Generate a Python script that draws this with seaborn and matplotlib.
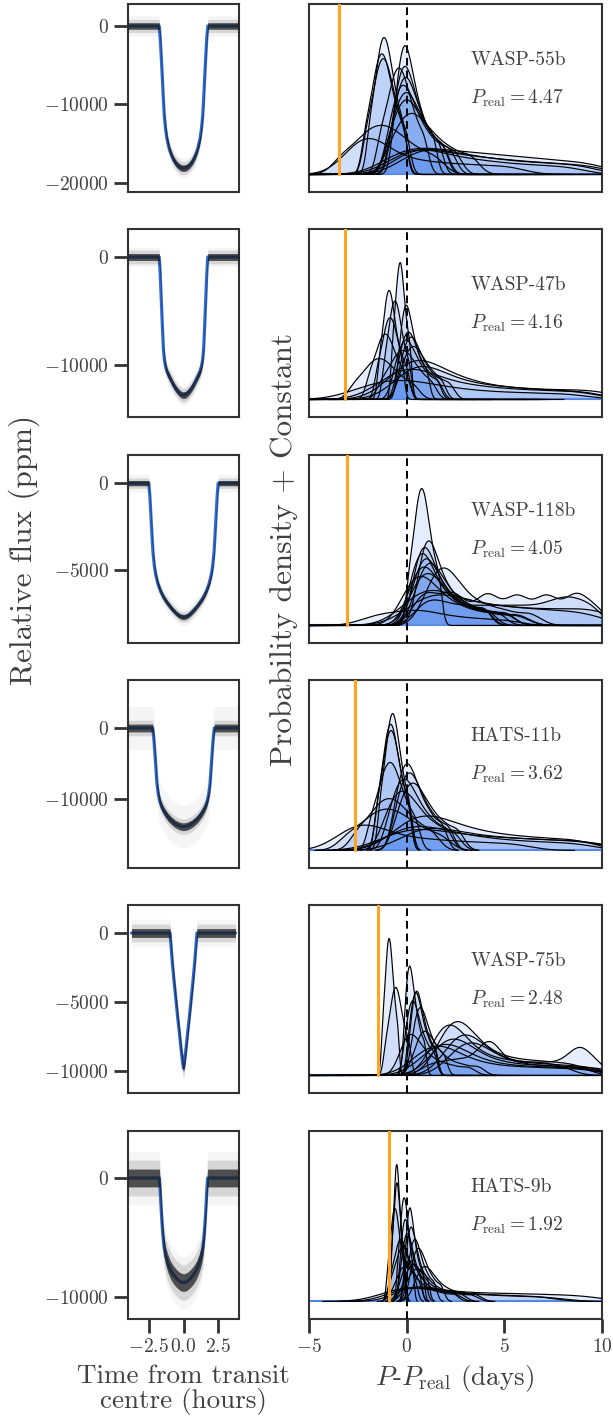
import numpy as np
import pandas as pd
import matplotlib
matplotlib.use("Agg")
import matplotlib.pyplot as plt
import seaborn as sns

# ---------------- data ----------------
planets = ["WASP-55b", "WASP-47b", "WASP-118b", "HATS-11b", "WASP-75b", "HATS-9b"]
p_real = [4.47, 4.16, 4.05, 3.62, 2.48, 1.92]
p_min = 1.0  # shortest searched period (days) -> orange line at p_min - P_real

# transit model, first half (hours, ppm); second half is the mirror image
wasp55b_t = [-4.0, -1.75, -1.68, -1.6, -1.52, -1.45, -1.38, -1.3, -1.2, -1.05, -0.9, -0.7, -0.5, -0.3, -0.15, 0.0]
wasp55b_f = [0, 0, -1500, -4000, -6800, -9400, -11500, -13000, -14300, -15500, -16300, -17100, -17600, -17950, -18080, -18120]
wasp47b_t = [-4.0, -1.75, -1.68, -1.6, -1.52, -1.45, -1.38, -1.3, -1.2, -1.05, -0.9, -0.7, -0.5, -0.3, -0.15, 0.0]
wasp47b_f = [0, 0, -1500, -4000, -6500, -8500, -9500, -10100, -10600, -11000, -11400, -11900, -12300, -12600, -12750, -12800]
wasp118b_t = [-4.0, -2.5, -2.43, -2.36, -2.28, -2.2, -2.1, -2.0, -1.85, -1.65, -1.4, -1.1, -0.8, -0.5, -0.25, 0.0]
wasp118b_f = [0, 0, -700, -1700, -2900, -4000, -4800, -5300, -5800, -6250, -6650, -7000, -7300, -7550, -7700, -7750]
hats11b_t = [-4.0, -2.22, -2.15, -2.08, -2.0, -1.92, -1.82, -1.7, -1.55, -1.35, -1.1, -0.85, -0.6, -0.35, -0.15, 0.0]
hats11b_f = [0, 0, -1200, -3000, -5300, -7700, -9300, -10400, -11200, -11900, -12600, -13100, -13500, -13750, -13880, -13900]
wasp75b_t = [-3.75, -0.97, -0.9, -0.8, -0.7, -0.6, -0.5, -0.4, -0.3, -0.2, -0.12, -0.05, 0.0]
wasp75b_f = [0, 0, -900, -2200, -3300, -4300, -5300, -6300, -7200, -8200, -8900, -9500, -9800]
hats9b_t = [-4.0, -1.74, -1.68, -1.62, -1.55, -1.48, -1.4, -1.3, -1.15, -0.95, -0.75, -0.5, -0.25, 0.0]
hats9b_f = [0, 0, -1000, -2400, -3800, -4900, -5800, -6500, -7100, -7700, -8100, -8450, -8700, -8800]

noise_core = [420, 320, 150, 550, 320, 750]      # ppm
noise_halo = [1300, 900, 500, 3000, 1000, 2200]  # ppm

flux_ticks = [[0, -10000, -20000], [0, -10000], [0, -5000], [0, -10000], [0, -5000, -10000], [0, -10000]]
time_ticks = [-2.5, 0.0, 2.5]
dp_ticks = [-5, 0, 5, 10]

# recovered-period samples, P - P_real (days): one list per injection run,
# with the relative weight (number of recoveries) of each run
wasp55b_dP = [
    [-1.87, -1.6, -1.42, -1.29, -1.15, -1.02, -0.88, -0.7, -0.48, -0.16],
    [-2.09, -1.78, -1.58, -1.42, -1.27, -1.12, -0.96, -0.76, -0.5, -0.15],
    [-2.05, -1.73, -1.52, -1.36, -1.2, -1.04, -0.88, -0.67, -0.4, -0.03],
    [-1.33, -0.98, -0.75, -0.57, -0.4, -0.23, -0.05, 0.18, 0.47, 0.88],
    [-0.59, -0.39, -0.23, -0.1, 0.03, 0.19, 0.37, 0.6, 0.91, 1.33],
    [-0.69, -0.45, -0.26, -0.11, 0.05, 0.24, 0.45, 0.73, 1.1, 1.6],
    [-0.73, -0.45, -0.25, -0.07, 0.1, 0.31, 0.55, 0.86, 1.27, 1.83],
    [-0.9, -0.6, -0.38, -0.19, 0.0, 0.23, 0.49, 0.83, 1.28, 1.88],
    [-0.83, -0.51, -0.26, -0.05, 0.15, 0.4, 0.68, 1.05, 1.54, 2.2],
    [-0.88, -0.52, -0.25, -0.03, 0.2, 0.47, 0.79, 1.19, 1.73, 2.45],
    [-0.82, -0.38, -0.05, 0.22, 0.5, 0.83, 1.22, 1.71, 2.37, 3.25],
    [-3.3, -2.55, -2.05, -1.68, -1.3, -0.92, -0.55, -0.05, 0.58, 1.45],
    [-2.8, -2.5, -2.2, -2.0, -1.8, -1.4, -0.8, 0.0, 1.0, 2.2, 3.6, 5.2],
    [-1.0, -0.5, -0.1, 0.3, 0.7, 1.1, 1.5, 2.0, 2.5, 3.0, 3.5, 4.0, 4.6, 5.2, 5.8, 6.5, 7.2, 8.0, 8.9, 9.8],
    [-0.6, -0.2, 0.2, 0.6, 1.0, 1.5, 2.0, 2.6, 3.2, 3.9, 4.6, 5.4, 6.3, 7.3, 8.4, 9.6],
    [0.0, 0.4, 0.8, 1.2, 1.7, 2.2, 2.8, 3.4, 4.1, 4.9, 5.8, 6.8, 7.9, 9.1],
    [-0.3, 0.1, 0.5, 0.9, 1.4, 2.0, 2.7, 3.5, 4.4, 5.5, 6.8, 8.3],
]
wasp55b_w = [1, 1, 1, 1, 1, 1, 1, 1, 1, 1, 1, 1, 0.9, 1.2, 1.0, 0.9, 0.8]

wasp47b_dP = [
    [-0.72, -0.58, -0.49, -0.41, -0.34, -0.27, -0.2, -0.1, 0.02, 0.18],
    [-1.38, -1.2, -1.08, -0.99, -0.9, -0.81, -0.72, -0.6, -0.45, -0.24],
    [-1.13, -0.93, -0.8, -0.7, -0.6, -0.5, -0.4, -0.27, -0.1, 0.13],
    [-1.49, -1.25, -1.09, -0.97, -0.85, -0.73, -0.61, -0.45, -0.25, 0.03],
    [-0.39, -0.23, -0.12, -0.03, 0.07, 0.18, 0.32, 0.49, 0.72, 1.02],
    [-0.44, -0.22, -0.07, 0.07, 0.2, 0.36, 0.54, 0.78, 1.1, 1.53],
    [-0.33, -0.11, 0.06, 0.21, 0.35, 0.52, 0.72, 0.98, 1.32, 1.78],
    [-0.62, -0.38, -0.2, -0.05, 0.1, 0.28, 0.49, 0.76, 1.12, 1.6],
    [-0.3, -0.04, 0.16, 0.33, 0.5, 0.7, 0.94, 1.24, 1.64, 2.18],
    [-1.27, -0.87, -0.6, -0.4, -0.2, 0.0, 0.2, 0.47, 0.8, 1.27],
    [-2.68, -2.2, -1.88, -1.64, -1.4, -1.16, -0.92, -0.6, -0.2, 0.36],
    [-1.9, -1.6, -1.4, -1.25, -1.1, -0.95, -0.8, -0.6, -0.35, 0.0],
    [-0.5, -0.2, 0.1, 0.3, 0.6, 0.9, 1.3, 1.8, 2.4, 3.1, 4.0, 5.2, 6.6, 8.2, 9.8],
    [-1.2, -0.7, -0.3, 0.0, 0.3, 0.7, 1.2, 1.8, 2.6, 3.5, 4.6, 5.9, 7.4, 9.0],
    [-0.2, 0.1, 0.35, 0.6, 0.9, 1.3, 1.8, 2.4, 3.1, 4.0, 5.0, 6.2, 7.6, 9.2],
    [-2.5, -1.8, -1.2, -0.7, -0.2, 0.3, 0.9, 1.6, 2.5, 3.6, 5.0, 6.6, 8.4],
]
wasp47b_w = [1, 1, 1, 1, 1, 1, 1, 1, 1, 1, 1, 1, 2.3, 1.9, 1.9, 1.4]

wasp118b_dP = [
    [0.13, 0.37, 0.53, 0.65, 0.77, 0.89, 1.01, 1.17, 1.37, 1.65],
    [0.65, 0.81, 0.95, 1.09, 1.2, 1.37, 1.56, 1.81, 2.14, 2.58, 3.18, 3.95],
    [0.4, 0.58, 0.73, 0.88, 1.0, 1.18, 1.39, 1.66, 2.02, 2.5, 3.16, 4.0],
    [0.25, 0.44, 0.61, 0.77, 0.9, 1.1, 1.32, 1.62, 2.01, 2.53, 3.24, 4.15],
    [0.4, 0.61, 0.78, 0.96, 1.1, 1.31, 1.56, 1.87, 2.29, 2.85, 3.62, 4.6],
    [0.55, 0.77, 0.96, 1.15, 1.3, 1.53, 1.79, 2.13, 2.58, 3.18, 4.0, 5.05],
    [0.2, 0.44, 0.64, 0.84, 1.0, 1.24, 1.52, 1.88, 2.36, 3.0, 3.88, 5.0],
    [0.3, 0.57, 0.79, 1.02, 1.2, 1.47, 1.79, 2.19, 2.73, 3.45, 4.44, 5.7],
    [-0.1, 0.18, 0.42, 0.66, 0.85, 1.14, 1.47, 1.9, 2.47, 3.23, 4.27, 5.6],
    [1.0, 1.35, 1.6, 1.8, 2.0, 2.25, 2.55, 2.95, 3.5, 4.2, 5.1, 6.3],
    [0.4, 0.7, 0.9, 1.1, 1.3, 1.6, 2.0, 2.3, 2.4, 2.5, 2.9, 3.4, 3.9, 4.1, 4.2, 4.3, 4.8, 5.3, 5.6, 5.7,
     5.8, 6.3, 6.8, 7.1, 7.2, 7.3, 7.8, 8.3, 8.6, 8.7, 8.8, 9.2, 9.6, 9.9],
    [0.6, 1.0, 1.3, 1.7, 2.1, 2.6, 3.1, 3.6, 4.1, 4.6, 5.1, 5.6, 6.1, 6.6, 7.1, 7.5, 7.9, 8.2, 8.5, 8.9, 9.3, 9.7],
    [0.2, 0.6, 0.9, 1.3, 1.8, 2.4, 3.1, 3.9, 4.8, 5.8, 6.9, 8.1, 9.4],
    [0.5, 0.9, 1.3, 1.8, 2.4, 3.1, 3.9, 4.8, 5.8, 6.9, 8.0, 9.2, 10.0],
    [-2.0, -1.4, -0.8, -0.3, 0.2, 0.6, 1.0, 1.5, 2.2, 3.0, 4.0, 5.2],
]
wasp118b_w = [1, 1, 1, 1, 1, 1, 1, 1, 1, 1.1, 1.7, 1.3, 1.4, 1.4, 0.5]

hats11b_dP = [
    [-1.33, -1.1, -0.95, -0.83, -0.72, -0.61, -0.49, -0.34, -0.15, 0.12],
    [-1.48, -1.23, -1.07, -0.94, -0.82, -0.7, -0.57, -0.41, -0.2, 0.08],
    [-1.49, -1.23, -1.06, -0.93, -0.8, -0.67, -0.54, -0.37, -0.15, 0.15],
    [-1.79, -1.44, -1.2, -1.03, -0.85, -0.67, -0.5, -0.26, 0.04, 0.45],
    [-2.5, -1.9, -1.5, -1.2, -0.9, -0.6, -0.3, 0.1, 0.6, 1.3],
    [-3.0, -2.25, -1.75, -1.38, -1.0, -0.62, -0.25, 0.25, 0.88, 1.75],
    [-0.61, -0.35, -0.16, 0.01, 0.17, 0.37, 0.59, 0.89, 1.27, 1.8],
    [-0.58, -0.28, -0.07, 0.12, 0.3, 0.52, 0.77, 1.1, 1.54, 2.13],
    [-0.9, -0.58, -0.35, -0.15, 0.05, 0.29, 0.56, 0.92, 1.39, 2.03],
    [-0.51, -0.17, 0.08, 0.29, 0.5, 0.75, 1.05, 1.42, 1.93, 2.6],
    [-1.14, -0.76, -0.48, -0.24, 0.0, 0.29, 0.62, 1.05, 1.62, 2.38],
    [-3.2, -2.8, -2.5, -2.2, -1.8, -1.3, -0.6, 0.3, 1.3, 2.5, 3.9, 5.5],
    [-0.5, 0.0, 0.4, 0.8, 1.2, 1.6, 2.1, 2.7, 3.4, 4.2, 5.2, 6.3, 7.6, 9.0],
    [-1.0, -0.4, 0.2, 0.7, 1.3, 2.0, 2.8, 3.7, 4.7, 5.8, 7.0, 8.3, 9.7],
    [0.0, 0.5, 0.9, 1.4, 1.9, 2.5, 3.2, 4.0, 4.9, 5.9, 7.0, 8.2, 9.5],
    [-0.8, -0.3, 0.1, 0.5, 1.0, 1.5, 2.1, 2.8, 3.6, 4.6, 5.8, 7.2, 8.8],
]
hats11b_w = [1, 1, 1, 1, 1, 1, 1, 1, 1, 1, 1, 0.9, 1.4, 1.1, 1.0, 1.0]

wasp75b_dP = [
    [-1.22, -1.1, -1.02, -0.96, -0.9, -0.84, -0.78, -0.7, -0.6, -0.46],
    [-1.06, -0.87, -0.75, -0.65, -0.56, -0.47, -0.37, -0.25, -0.09, 0.12],
    [-0.1, 0.0, 0.08, 0.15, 0.22, 0.3, 0.4, 0.52, 0.68, 0.9],
    [0.18, 0.32, 0.42, 0.51, 0.6, 0.71, 0.83, 0.99, 1.2, 1.48],
    [0.12, 0.26, 0.37, 0.46, 0.55, 0.66, 0.78, 0.95, 1.16, 1.45],
    [-0.08, 0.08, 0.2, 0.3, 0.4, 0.52, 0.66, 0.84, 1.08, 1.4],
    [0.27, 0.45, 0.58, 0.69, 0.8, 0.93, 1.09, 1.28, 1.55, 1.9],
    [0.47, 0.63, 0.76, 0.89, 1.0, 1.16, 1.34, 1.58, 1.9, 2.33, 2.91, 3.65],
    [-0.27, -0.1, 0.04, 0.19, 0.3, 0.47, 0.67, 0.93, 1.27, 1.73, 2.35, 3.15],
    [1.8, 2.04, 2.24, 2.44, 2.6, 2.84, 3.12, 3.48, 3.96, 4.6, 5.4, 6.36, 7.4, 8.6],
    [1.45, 1.67, 1.86, 2.05, 2.2, 2.43, 2.69, 3.03, 3.48, 4.08, 4.83, 5.73, 6.7, 7.83],
    [2.15, 2.4, 2.62, 2.83, 3.0, 3.26, 3.55, 3.94, 4.45, 5.13, 5.98, 7.0, 8.1, 9.38],
    [1.5, 1.77, 1.99, 2.22, 2.4, 2.67, 2.99, 3.39, 3.93, 4.65, 5.55, 6.63, 7.8, 9.15],
    [1.0, 1.3, 1.55, 1.8, 2.0, 2.3, 2.65, 3.1, 3.7, 4.5, 5.5, 6.7, 8.0, 9.5],
    [2.4, 2.67, 2.89, 3.12, 3.3, 3.57, 3.89, 4.29, 4.83, 5.55, 6.45, 7.53, 8.7, 10.0],
    [0.6, 0.9, 1.15, 1.4, 1.6, 1.9, 2.25, 2.7, 3.3, 4.1, 5.1, 6.3, 7.6, 9.1],
    [1.0, 1.5, 2.0, 2.4, 2.8, 3.2, 3.6, 3.9, 4.1, 4.2, 4.3, 4.4, 4.6, 5.0, 5.5, 6.0, 6.5, 7.0, 7.5, 8.0,
     8.4, 8.7, 8.85, 8.95, 9.1, 9.5, 9.9],
]
wasp75b_w = [1, 1, 1, 1, 1, 1, 1, 1, 1, 2.5, 2.2, 2.0, 1.9, 1.8, 1.7, 1.7, 2.1]

hats9b_dP = [
    [-0.75, -0.66, -0.6, -0.555, -0.51, -0.465, -0.42, -0.36, -0.285, -0.18],
    [-0.78, -0.675, -0.605, -0.55, -0.5, -0.45, -0.395, -0.325, -0.24, -0.115],
    [-0.95, -0.82, -0.73, -0.67, -0.6, -0.53, -0.47, -0.38, -0.27, -0.12],
    [-0.44, -0.325, -0.25, -0.19, -0.13, -0.07, -0.01, 0.065, 0.16, 0.3],
    [-0.07, 0.03, 0.1, 0.16, 0.22, 0.29, 0.38, 0.48, 0.63, 0.82],
    [-0.32, -0.22, -0.14, -0.07, 0.0, 0.08, 0.18, 0.3, 0.46, 0.68],
    [-0.06, 0.06, 0.15, 0.22, 0.3, 0.39, 0.5, 0.63, 0.81, 1.05],
    [-0.3, -0.16, -0.07, 0.02, 0.1, 0.2, 0.31, 0.46, 0.66, 0.93],
    [0.07, 0.21, 0.32, 0.41, 0.5, 0.61, 0.73, 0.9, 1.11, 1.4],
    [-0.81, -0.58, -0.43, -0.31, -0.2, -0.09, 0.03, 0.18, 0.37, 0.64],
    [0.2, 0.36, 0.49, 0.59, 0.7, 0.83, 0.97, 1.16, 1.41, 1.75],
    [-0.23, -0.1, 0.01, 0.11, 0.2, 0.33, 0.48, 0.67, 0.93, 1.28, 1.75, 2.35],
    [-0.07, 0.07, 0.19, 0.31, 0.4, 0.54, 0.71, 0.92, 1.2, 1.58, 2.09, 2.75],
    [-0.5, -0.35, -0.23, -0.1, 0.0, 0.15, 0.33, 0.55, 0.85, 1.25, 1.8, 2.5],
    [0.5, 0.65, 0.77, 0.9, 1.0, 1.15, 1.33, 1.55, 1.85, 2.25, 2.8, 3.5],
    [-0.83, -0.63, -0.5, -0.4, -0.3, -0.2, -0.1, 0.03, 0.2, 0.43],
    [0.06, 0.22, 0.36, 0.49, 0.6, 0.76, 0.95, 1.19, 1.52, 1.95, 2.54, 3.3],
    [-1.0, -0.6, -0.3, 0.0, 0.3, 0.7, 1.1, 1.6, 2.1, 2.7, 3.3, 4.0, 4.7, 5.4, 6.1, 6.9, 7.7, 8.6, 9.5],
    [-0.8, -0.4, -0.1, 0.2, 0.5, 0.9, 1.3, 1.8, 2.4, 3.0, 3.7, 4.5, 5.4, 6.4, 7.5],
    [-0.3, 0.0, 0.3, 0.6, 1.0, 1.4, 1.9, 2.5, 3.2, 4.0, 4.9, 5.9, 7.0],
]
hats9b_w = [1, 1, 1, 1, 1, 1, 1, 1, 1, 1, 1, 1, 1, 1, 1, 1, 1, 1.7, 1.2, 1.2]

lc_t = [wasp55b_t, wasp47b_t, wasp118b_t, hats11b_t, wasp75b_t, hats9b_t]
lc_f = [wasp55b_f, wasp47b_f, wasp118b_f, hats11b_f, wasp75b_f, hats9b_f]
dP_samples = [wasp55b_dP, wasp47b_dP, wasp118b_dP, hats11b_dP, wasp75b_dP, hats9b_dP]
dP_weights = [wasp55b_w, wasp47b_w, wasp118b_w, hats11b_w, wasp75b_w, hats9b_w]
kde_cut = [20, 20, 20, 3, 20, 3]


def kde_factor(kde):
    # Scott's rule, narrower for the densely sampled runs
    n = kde.n
    return (0.6 if n < 21 else 0.36) * n ** -0.2


# ---------------- style ----------------
sns.set_theme(style="ticks")
plt.rcParams.update({
    "font.family": ["cmr10", "DejaVu Serif"],
    "mathtext.fontset": "cm",
    "axes.formatter.use_mathtext": True,
    "axes.unicode_minus": True,
    "axes.linewidth": 1.5,
    "axes.edgecolor": ".2",
    "xtick.color": ".2",
    "ytick.color": ".2",
    "xtick.labelcolor": ".25",
    "ytick.labelcolor": ".25",
    "text.color": ".25",
    "xtick.major.size": 10,
    "ytick.major.size": 10,
    "xtick.major.width": 2.0,
    "ytick.major.width": 2.0,
    "xtick.labelsize": 14,
    "ytick.labelsize": 14,
})

BLUE_MODEL = "#2f6bd6"
FILL = "#6495ED"
ORANGE = "#ffa421"

W, H = 613, 1427
fig = plt.figure(figsize=(W / 100, H / 100), dpi=100)
row_tops = [4, 229, 455, 680, 905, 1131]
ph = 188
flux_lims = [(-21150, 2800), (-14815, 2593), (-9244, 1628), (-19718, 6760), (-11594, 2029), (-11849, 3950)]

for i, name in enumerate(planets):
    top = row_tops[i]
    axL = fig.add_axes([128 / W, 1 - (top + ph) / H, 111 / W, ph / H])
    axR = fig.add_axes([309 / W, 1 - (top + ph) / H, 293 / W, ph / H])

    # ---- light curve ----
    th = np.array(lc_t[i], dtype=float)
    fh = np.array(lc_f[i], dtype=float)
    t = np.concatenate([th, -th[-2::-1]])
    f = np.concatenate([fh, fh[-2::-1]])
    sns.lineplot(x=t, y=f, ax=axL, color=BLUE_MODEL, lw=2.3, sort=False, zorder=2)
    axL.fill_between(t, f - noise_halo[i], f + noise_halo[i], color="k", alpha=0.045, lw=0, zorder=3)
    axL.fill_between(t, f - 2 * noise_core[i], f + 2 * noise_core[i], color="k", alpha=0.14, lw=0, zorder=3)
    axL.fill_between(t, f - noise_core[i], f + noise_core[i], color="k", alpha=0.72, lw=0, zorder=3)
    axL.set_xlim(-4, 4)
    axL.set_ylim(*flux_lims[i])
    axL.set_yticks(flux_ticks[i])
    axL.set_xticks(time_ticks if i == 5 else [])
    axL.set_xlabel("")
    axL.set_ylabel("")

    # ---- period posteriors ----
    rows = []
    for j, s in enumerate(dP_samples[i]):
        for v in s:
            rows.append(("run%02d" % j, v, dP_weights[i][j] / len(s)))
    df = pd.DataFrame(rows, columns=["run", "dP", "w"])
    runs = list(dict.fromkeys(df["run"]))
    kde_kws = dict(data=df, x="dP", hue="run", weights="w", ax=axR, common_norm=True,
                   bw_method=kde_factor, clip=(-5, 10), cut=kde_cut[i], gridsize=400, legend=False)
    sns.kdeplot(fill=True, palette={r: FILL for r in runs}, alpha=0.16,
                edgecolor="none", linewidth=0, zorder=3, **kde_kws)
    M = 0.0
    for coll in axR.collections:
        for p in coll.get_paths():
            if len(p.vertices):
                M = max(M, p.vertices[:, 1].max())
    sns.kdeplot(fill=False, palette={r: "black" for r in runs}, linewidth=0.85, zorder=4, **kde_kws)
    lo_r, hi_r = -0.128 * M, 1.245 * M
    axR.set_ylim(lo_r, hi_r)
    base = -lo_r / (hi_r - lo_r)
    axR.axhline(0, color="#4f83e3", lw=1.5, zorder=2)
    axR.axvline(0, color="black", ls=(0, (4, 2.5)), lw=1.4, zorder=6)
    axR.axvline(p_min - p_real[i], ymin=base, ymax=1, color=ORANGE, lw=2.2, zorder=6)
    axR.set_xlim(-5, 10)
    axR.set_yticks([])
    axR.set_xticks(dp_ticks if i == 5 else [])
    axR.set_xlabel("")
    axR.set_ylabel("")
    axR.text(0.55, 0.70, name, transform=axR.transAxes, fontsize=14, va="center", ha="left", zorder=7)
    axR.text(0.55, 0.50, r"$P_{\rm real} = %.2f$" % p_real[i], transform=axR.transAxes,
             fontsize=14, va="center", ha="left", zorder=7)

fig.text(24 / W, 1 - 550 / H, "Relative flux (ppm)", rotation=90, fontsize=22.5, ha="center", va="center")
fig.text(284 / W, 1 - 549 / H, "Probability density + Constant", rotation=90, fontsize=22.5, ha="center", va="center")
fig.text(183 / W, 1 - 1390 / H, "Time from transit\ncentre (hours)", fontsize=19.5, ha="center", va="center", linespacing=1.0)
fig.text(455 / W, 1 - 1378 / H, r"$P$-$P_{\rm real}$ (days)", fontsize=19.5, ha="center", va="center")

fig.savefig("out.png", dpi=100)
